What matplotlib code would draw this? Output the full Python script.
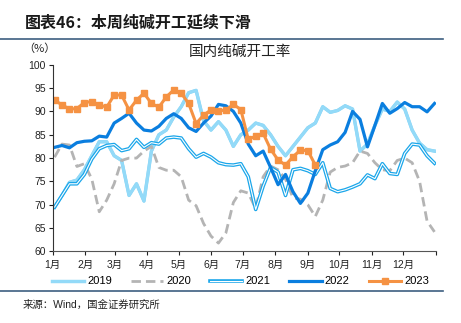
import matplotlib
matplotlib.use("Agg")
import matplotlib.pyplot as plt
import matplotlib.patheffects as pe
from matplotlib.lines import Line2D
import numpy as np

plt.rcParams['font.family'] = ['Liberation Sans', 'Noto Sans CJK SC']

#---------------------------------------------------------------------data
months = ['1月', '2月', '3月', '4月', '5月', '6月',
          '7月', '8月', '9月', '10月', '11月', '12月']
month_start = [0, 31, 59, 90, 120, 151, 181, 212, 243, 273, 304, 334, 365]

weeks = np.arange(1, 53)

y2019 = [69.5, 72.0, 74.8, 75.3, 77.5, 80.5, 83.5, 83.5, 80.5, 79.5, 72.0, 74.5, 70.8,
         81.5, 85.0, 86.0, 88.8, 91.0, 94.0, 94.5, 88.0, 86.0, 87.8, 86.0, 82.5, 85.0,
         86.0, 87.5, 87.0, 85.0, 82.5, 80.5, 82.5, 84.5, 86.5, 87.5, 91.0, 89.8, 90.2,
         91.2, 90.5, 81.5, 83.0, 87.0, 90.5, 90.0, 92.0, 90.5, 86.0, 83.2, 81.8, 81.5]

y2020 = [80.2, 83.0, 82.8, 78.2, 78.8, 75.5, 68.5, 71.0, 74.5, 79.5, 80.0, 80.0, 81.5,
         82.5, 78.0, 77.4, 77.4, 76.0, 71.0, 69.8, 66.0, 63.3, 61.8, 64.0, 70.5, 73.0,
         72.5, 69.2, 76.0, 78.3, 77.5, 75.5, 71.5, 71.2, 70.0, 67.5, 71.0, 77.0, 78.0,
         78.3, 79.0, 81.5, 81.0, 79.0, 77.5, 77.3, 79.5, 80.0, 79.0, 75.0, 66.5, 64.2]

y2021 = [69.5, 72.0, 74.5, 74.5, 76.5, 79.8, 82.0, 82.7, 82.9, 81.6, 82.0, 84.0, 82.3,
         83.3, 83.0, 84.3, 84.5, 84.3, 82.0, 80.2, 81.0, 80.2, 79.0, 78.6, 78.5, 78.8,
         76.0, 69.0, 74.0, 78.0, 77.0, 72.0, 77.5, 77.8, 77.3, 76.5, 79.0, 73.5, 72.8,
         73.2, 73.8, 74.5, 76.4, 75.6, 78.8, 76.7, 76.5, 81.0, 83.0, 82.8, 80.5, 78.9]

y2022 = [82.3, 82.7, 82.2, 83.3, 83.6, 83.7, 84.7, 84.5, 87.5, 88.5, 89.6, 87.5, 86.0,
         85.8, 86.8, 88.5, 89.5, 88.5, 86.5, 85.7, 87.5, 89.0, 91.5, 91.2, 90.0, 87.5,
         83.0, 80.5, 81.5, 78.0, 74.3, 76.5, 72.8, 70.3, 72.5, 77.3, 81.8, 82.8, 83.5,
         85.5, 90.0, 88.3, 82.4, 87.0, 91.7, 89.6, 90.6, 91.9, 91.0, 91.0, 89.9, 91.7]

y2023 = [92.4, 91.4, 90.5, 90.6, 91.9, 92.1, 91.4, 90.9, 93.5, 93.5, 90.3, 92.4, 93.9,
         91.7, 90.9, 93.1, 94.6, 93.9, 91.7, 87.4, 89.2, 90.3, 90.1, 90.3, 91.5, 90.4,
         84.0, 84.7, 85.3, 81.9, 79.6, 78.5, 80.3, 81.7, 81.6, 78.5]

# week number -> day of year on the axis
xd = (weeks - 0.75) * 7.1

#---------------------------------------------------------------------figure
fig = plt.figure(figsize=(4.61, 3.23), dpi=100)
ax = fig.add_axes([0.1143, 0.2214, 0.8308, 0.5783])

ax.plot(xd, y2019, color='#93daf8', lw=2.2, label='2019',
        path_effects=[pe.Stroke(linewidth=2.4, foreground='#86d3f5'), pe.Normal()])
ax.plot(xd, y2020, color='#b4b4b4', lw=2.0, dashes=(3.4, 1.8), label='2020')
ax.plot(xd, y2021, color='white', lw=0.8, label='2021',
        path_effects=[pe.Stroke(linewidth=2.6, foreground='#1aa6ea'), pe.Normal()])
ax.plot(xd, y2022, color='#0a7edf', lw=2.3, label='2022')
ax.plot(xd[:len(y2023)], y2023, color='#f59243', lw=2.2, marker='s',
        markersize=4.2, label='2023')

ax.set_xlim(0, 365)
ax.set_ylim(60, 100)
ax.set_yticks(np.arange(60, 101, 5))
ax.set_xticks(month_start)
ax.set_xticklabels(months + [''])
ax.tick_params(axis='y', labelsize=7.5, length=3, width=0.8, pad=2, colors='#222222')
ax.tick_params(axis='x', labelsize=7.5, length=3, width=0.8, pad=3, colors='#222222')

for s in ['top', 'right']:
    ax.spines[s].set_visible(False)
ax.spines['left'].set_color('#333333')
ax.spines['bottom'].set_color('#555555')
ax.spines['left'].set_linewidth(0.8)
ax.spines['bottom'].set_linewidth(0.8)

leg = ax.legend(loc='upper center', bbox_to_anchor=(0.49, -0.11), ncol=5,
                frameon=False, fontsize=8, handlelength=2.9, handletextpad=0.3,
                columnspacing=1.7, borderaxespad=0)

#---------------------------------------------------------------------texts
fig.text(0.054, 0.93, '图表46：本周纯碱开工延续下滑', fontsize=11.5,
         fontweight='bold', style='italic', color='#1a1a1a', va='center',
         family=['Noto Sans CJK SC'])
fig.add_artist(Line2D([0, 0.961], [0.878, 0.878], color='#3d5f80', lw=1.2))
fig.text(0.05, 0.848, '（%）', fontsize=8, va='center', color='#222222',
         family=['Noto Sans CJK SC'])
fig.text(0.52, 0.838, '国内纯碱开工率', fontsize=10.5, ha='center', va='center',
         color='#222222')
fig.add_artist(Line2D([0, 0.961], [0.1006, 0.1006], color='#3d5f80', lw=1.2))
fig.text(0.05, 0.055, '来源：Wind，国金证券研究所', fontsize=7.5, va='center',
         color='#222222')

fig.savefig('out.png', dpi=100)
